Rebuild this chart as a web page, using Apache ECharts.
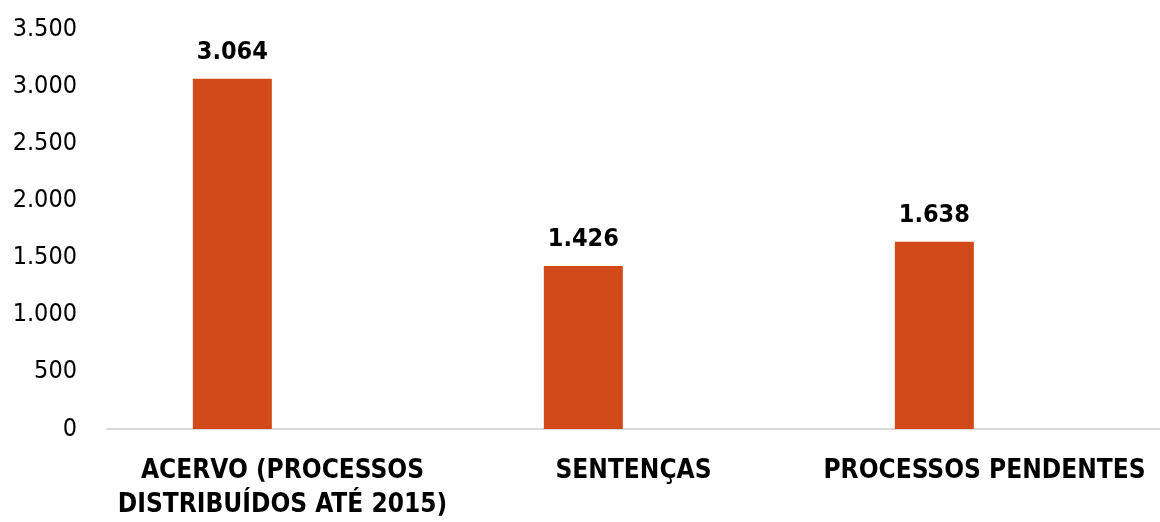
<!DOCTYPE html>
<html>
<head>
<meta charset="utf-8">
<script src="https://cdn.jsdelivr.net/npm/echarts@6/dist/echarts.min.js"></script>
<style>html,body{margin:0;padding:0;background:#fff;}#c{width:1160px;height:522px;}</style>
</head>
<body>
<div id="c"></div>
<script>
const categories = ['ACERVO (PROCESSOS\nDISTRIBUÍDOS ATÉ 2015)', 'SENTENÇAS', 'PROCESSOS PENDENTES'];
const values = [3064, 1426, 1638];
const emptySeries = [null, null, null];
const yTicks = { min: 0, max: 3500, interval: 500 };

const FONT = "'Liberation Sans Narrow', 'Arial Narrow', 'DejaVu Sans Condensed', sans-serif";
const fmt = v => String(v).replace(/\B(?=(\d{3})+(?!\d))/g, '.');

const chart = echarts.init(document.getElementById('c'), null, { renderer: 'canvas' });
chart.setOption({
  animation: false,
  grid: { left: 107, right: -7, top: 29, bottom: 90, containLabel: false },
  xAxis: {
    type: 'category',
    data: categories,
    axisLine: { show: true, lineStyle: { color: '#D9D9D9', width: 2 } },
    axisTick: { show: false },
    axisLabel: {
      interval: 0, color: '#000', fontFamily: FONT, fontWeight: 'bold',
      fontSize: 26, lineHeight: 34, margin: 25
    }
  },
  yAxis: {
    type: 'value', min: yTicks.min, max: yTicks.max, interval: yTicks.interval,
    axisLine: { show: false }, axisTick: { show: false },
    splitLine: { show: false },
    axisLabel: { color: '#000', fontFamily: FONT, fontSize: 25, margin: 30, padding: [5, 0, 0, 0], formatter: fmt }
  },
  series: [
    {
      type: 'bar', data: values, barWidth: 79, barGap: '27%',
      itemStyle: { color: '#D24A19' },
      label: {
        show: true, position: 'top', distance: 14, color: '#000',
        fontFamily: FONT, fontWeight: 'bold', fontSize: 25, formatter: p => fmt(p.value)
      }
    },
    { type: 'bar', data: emptySeries, barWidth: 79, silent: true }
  ]
});
</script>
</body>
</html>
